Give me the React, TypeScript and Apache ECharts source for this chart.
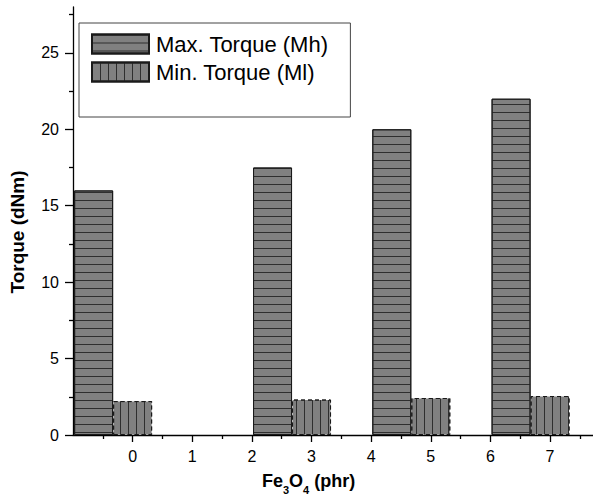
import React, { useEffect, useRef } from "react";
import * as echarts from "echarts";

const loadings = [0, 3, 5, 7];
const maxTorque = [16.0, 17.5, 20.0, 22.0];
const minTorque = [2.22, 2.32, 2.42, 2.55];
const seriesNames = ["Max. Torque (Mh)", "Min. Torque (Ml)"];
const xMajorTicks = [0, 1, 2, 3, 4, 5, 6, 7];
const xMinorTicks = [-0.5, 0.5, 1.5, 2.5, 3.5, 4.5, 5.5, 6.5, 7.5];
const yMajorTicks = [0, 5, 10, 15, 20, 25];
const yMinorTicks = [2.5, 7.5, 12.5, 17.5, 22.5, 27.5];

const FONT = "'Liberation Sans', Arial, sans-serif";
const FILL = "#808080";
const LINE = "#2e2e2e";

export default function App() {
  const ref = useRef<HTMLDivElement>(null);
  useEffect(() => {
    document.body.style.margin = "0";
    if (!ref.current) return;
    const chart = echarts.init(ref.current, undefined, { renderer: "svg" });
    const tickLine = { color: "#000", width: 1.3 };
    const axisLine = { show: true, onZero: false, lineStyle: { color: "#000", width: 1.3 } };
    const option: any = {
      animation: false,
      backgroundColor: "#fff",
      textStyle: { fontFamily: FONT },
      grid: { left: 73, right: 0, top: 7, bottom: 59, containLabel: false },
      legend: {
        data: seriesNames,
        left: 79,
        top: 23,
        orient: "vertical",
        align: "left",
        icon: "rect",
        itemWidth: 57,
        itemHeight: 19,
        itemGap: 6,
        padding: [10, 22, 34, 12],
        borderColor: "#444",
        borderWidth: 1,
        textStyle: { fontSize: 22, color: "#000", fontFamily: FONT, padding: [0, 0, 0, 2] },
      },
      xAxis: [
        {
          type: "value",
          min: -1,
          max: 7.72,
          interval: 1,
          position: "bottom",
          axisLine,
          splitLine: { show: false },
          axisTick: { show: true, length: 7, customValues: xMajorTicks, lineStyle: tickLine },
          axisLabel: { customValues: xMajorTicks, fontSize: 16, color: "#000", margin: 13, fontFamily: FONT },
        },
        {
          type: "value",
          min: -1,
          max: 7.72,
          interval: 1,
          position: "bottom",
          axisLine: { show: false, onZero: false },
          splitLine: { show: false },
          axisLabel: { show: false },
          axisTick: { show: true, length: 4, customValues: xMinorTicks, lineStyle: tickLine },
        },
      ],
      yAxis: [
        {
          type: "value",
          min: 0,
          max: 28,
          interval: 5,
          position: "left",
          axisLine,
          splitLine: { show: false },
          axisTick: { show: true, length: 8, customValues: yMajorTicks, lineStyle: tickLine },
          axisLabel: { customValues: yMajorTicks, fontSize: 16, color: "#000", margin: 14, fontFamily: FONT },
        },
        {
          type: "value",
          min: 0,
          max: 28,
          interval: 5,
          position: "left",
          axisLine: { show: false, onZero: false },
          splitLine: { show: false },
          axisLabel: { show: false },
          axisTick: { show: true, length: 4, customValues: yMinorTicks, lineStyle: tickLine },
        },
      ],
      series: [
        {
          name: seriesNames[0],
          type: "bar",
          xAxisIndex: 0,
          yAxisIndex: 0,
          barWidth: 39,
          barGap: "0%",
          data: loadings.map((x, i) => [x, maxTorque[i]]),
          itemStyle: {
            color: FILL,
            borderColor: "#1a1a1a",
            borderWidth: 1,
            decal: {
              symbol: "rect",
              symbolSize: 1,
              dashArrayX: [1, 0],
              dashArrayY: [1, 7],
              rotation: 0,
              color: LINE,
            },
          },
        },
        {
          name: seriesNames[1],
          type: "bar",
          xAxisIndex: 0,
          yAxisIndex: 0,
          barWidth: 39,
          barGap: "0%",
          data: loadings.map((x, i) => [x, minTorque[i]]),
          itemStyle: {
            color: FILL,
            borderColor: "#1a1a1a",
            borderWidth: 1,
            borderType: [4, 3],
            decal: {
              symbol: "rect",
              symbolSize: 1,
              dashArrayX: [1, 7],
              dashArrayY: [1, 0],
              rotation: 0,
              color: LINE,
            },
          },
        },
        {
          name: "_pad",
          type: "bar",
          xAxisIndex: 0,
          yAxisIndex: 0,
          barWidth: 39,
          barGap: "0%",
          data: [],
          itemStyle: { color: "transparent" },
        },
      ],
      graphic: [
        {
          type: "text",
          left: 262,
          top: 466,
          style: {
            text: "Fe{sub|3}O{sub|4} (phr)",
            fontSize: 18,
            fontWeight: "bold",
            fill: "#000",
            fontFamily: FONT,
            rich: {
              sub: { fontSize: 11, fontWeight: "bold", fontFamily: FONT, fill: "#000", padding: [18, 0, 0, 0], lineHeight: 11 },
            },
          },
        },
        {
          type: "text",
          x: 17,
          y: 232,
          rotation: Math.PI / 2,
          style: {
            text: "Torque (dNm)",
            fontSize: 19,
            fontWeight: "bold",
            fill: "#000",
            fontFamily: FONT,
            align: "center",
            verticalAlign: "middle",
          },
        },
      ],
    };
    chart.setOption(option);
    return () => chart.dispose();
  }, []);
  return <div ref={ref} style={{ width: 593, height: 494 }} />;
}
